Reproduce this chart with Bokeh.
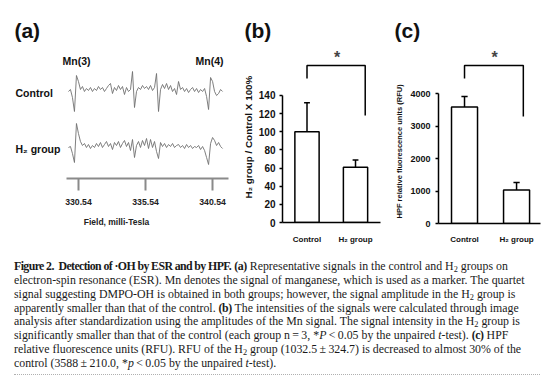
import numpy as np
from bokeh.plotting import figure
from bokeh.layouts import row, column
from bokeh.models import Range1d, FixedTicker, Label, Div, PrintfTickFormatter, Title
from bokeh.embed import file_html
from bokeh.resources import INLINE

# ---------------- data ----------------
esr_field_start = 329.79
esr_field_end = 341.29
esr_control = [0, 2, -6, -20, 16, 10, 2, 5, 0, 3, 1, 4, 0, 3, 1, 5, 2, 4, 0, 3,
               6, 8, -2, 4, 1, 6, 2, 5, -3, 4, 0, 2, 20, -16, 0, 4, 2, 6, 3, 5,
               2, 6, 1, 4, 18, -20, 2, 7, 3, 8, 2, 6, 0, 3, -3, 10, 2, 4, 0, 3,
               -1, 2, 4, 0, 3, -1, 2, 0, 3, -5, -18, 14, 10, 0, -4, -2, 2, 0]
esr_h2 = [0, 1, -6, -15, 24, 14, 6, 2, 4, 0, 3, -1, 2, 0, 4, 1, 5, 0, 3, 6,
          1, 4, -2, 5, 2, 6, 0, 4, 7, 1, 5, -3, 8, -10, 2, 6, 0, 7, 2, 9,
          -1, 8, 0, 6, -4, -11, 5, 1, 4, 0, 3, 1, 4, 0, 2, 3, 0, 2, -1, 3,
          0, 2, -1, 1, 0, 2, -2, 1, -3, -10, -17, 4, 10, 7, 2, 5, 1, -1]
esr_ticks = [330.54, 335.54, 340.54]

groups = ["Control", "H₂ group"]
b_mean = [100, 61]
b_err = [32, 8]
b_ticks = [0, 20, 40, 60, 80, 100, 120, 140]

c_mean = [3588, 1032.5]
c_err = [320, 230]
c_ticks = [0, 1000, 2000, 3000, 4000]

# ---------------- style ----------------
SANS = "Liberation Sans"
TRACE = "#707070"
AXGRAY = "#8a8a8a"
TOP_H = 250


def base(fig):
    fig.outline_line_color = None
    fig.grid.visible = False
    fig.background_fill_color = "white"
    fig.border_fill_color = "white"
    return fig


# ---------------- panel (a) ----------------
pa = figure(width=232, height=TOP_H, x_range=Range1d(324.72, 342.03), y_range=Range1d(0, 178),
            output_backend="svg", toolbar_location=None, y_axis_type=None,
            min_border_left=0, min_border_right=0, min_border_top=0, min_border_bottom=72)
pa.frame_align = False
base(pa)
field = np.linspace(esr_field_start, esr_field_end, len(esr_control))
pa.line(field, np.array(esr_control) + 87, line_color=TRACE, line_width=0.9)
pa.line(field, np.array(esr_h2) + 31, line_color=TRACE, line_width=0.9)
ax = pa.xaxis[0]
ax.bounds = (329.64, 341.73)
ax.ticker = FixedTicker(ticks=esr_ticks)
ax.formatter = PrintfTickFormatter(format="%.2f")
ax.axis_line_color = AXGRAY
ax.axis_line_width = 2
ax.major_tick_line_color = AXGRAY
ax.major_tick_line_width = 2
ax.major_tick_out = 12
ax.major_tick_in = 0
ax.minor_tick_line_color = None
ax.major_label_text_font = SANS
ax.major_label_text_font_style = "bold"
ax.major_label_text_font_size = "8.7px"
ax.major_label_text_color = "#222222"
ax.major_label_standoff = 8
ax.axis_label = "Field, milli-Tesla"
ax.axis_label_text_font = SANS
ax.axis_label_text_font_style = "bold"
ax.axis_label_text_font_size = "8.5px"
ax.axis_label_text_color = "#222222"
ax.axis_label_standoff = 9

for x, y, t, s in [(325.76, 148, "(a)", "21px"), (329.35, 118, "Mn(3)", "10.5px"),
                   (339.27, 118, "Mn(4)", "10.5px"), (325.84, 86, "Control", "10.5px"),
                   (325.84, 30, "H₂ group", "10.5px")]:
    pa.add_layout(Label(x=x, y=y, text=t, text_font=SANS, text_font_style="bold",
                        text_font_size=s, text_baseline="middle", text_color="#111111"))


# ---------------- bar panels ----------------
def bar_panel(width, xr, yr, mb_left, mb_right, mb_bottom, means, errs, ticks, bounds,
              tick_size, tick_standoff, xlab_size, xlab_standoff, cap):
    p = figure(width=width, height=TOP_H, x_range=Range1d(*xr), y_range=Range1d(*yr),
               output_backend="svg", toolbar_location=None,
               min_border_left=mb_left, min_border_right=mb_right,
               min_border_top=44, min_border_bottom=mb_bottom)
    p.frame_align = False
    base(p)
    xs = [1, 2]
    tops = [m + e for m, e in zip(means, errs)]
    p.segment(x0=xs, y0=means, x1=xs, y1=tops, line_color="black", line_width=1.5)
    p.segment(x0=[x - cap for x in xs], y0=tops, x1=[x + cap for x in xs], y1=tops,
              line_color="black", line_width=1.5)
    p.vbar(x=xs, top=means, bottom=0, width=0.5, fill_color="white",
           line_color="black", line_width=1.5)
    ya = p.yaxis[0]
    ya.bounds = bounds
    ya.ticker = FixedTicker(ticks=ticks)
    ya.axis_line_width = 1.5
    ya.major_tick_line_width = 1.5
    ya.major_tick_out = 3
    ya.major_tick_in = 0
    ya.minor_tick_line_color = None
    ya.major_label_text_font = SANS
    ya.major_label_text_font_style = "bold"
    ya.major_label_text_font_size = tick_size
    ya.major_label_text_color = "#111111"
    ya.major_label_standoff = tick_standoff
    xa = p.xaxis[0]
    xa.ticker = FixedTicker(ticks=xs)
    xa.major_label_overrides = {1: groups[0], 2: groups[1]}
    xa.axis_line_width = 1.5
    xa.major_tick_out = 0
    xa.major_tick_in = 0
    xa.minor_tick_line_color = None
    xa.major_label_text_font = SANS
    xa.major_label_text_font_style = "bold"
    xa.major_label_text_font_size = xlab_size
    xa.major_label_text_color = "#111111"
    xa.major_label_standoff = xlab_standoff
    return p


def titles(p, letter, letter_offset, ylabel, ysize, yoffset, ystandoff):
    p.add_layout(Title(text=letter, align="left", offset=letter_offset, standoff=5,
                       text_font=SANS, text_font_style="bold", text_font_size="21px",
                       text_color="#111111"), "above")
    p.add_layout(Title(text=ylabel, align="left", offset=yoffset, standoff=ystandoff,
                       text_font=SANS, text_font_style="bold", text_font_size=ysize,
                       text_color="#111111"), "left")


pb = bar_panel(152, (0.495, 2.515), (0, 196.2), 50, 4, 28, b_mean, b_err, b_ticks, (0, 140),
               "10px", 4, "8px", 12, 0.06)
pb.line([1, 1, 2.2, 2.2], [158.8, 173, 173, 118], line_color="black", line_width=1.5)
pb.add_layout(Label(x=1.62, y=182, text="*", text_font=SANS, text_font_style="bold",
                    text_font_size="16px", text_baseline="alphabetic", text_align="center"))
titles(pb, "(b)", -38, "H₂ group / Control X 100%", "9.9px", 24, 3)

pc = bar_panel(170, (0.5, 2.46), (0, 5507.7), 54, 14, 27, c_mean, c_err, c_ticks, (0, 4000),
               "9px", 5, "8px", 11, 0.06)
pc.line([1, 1, 2.13, 2.13], [4462, 4862, 4862, 3292], line_color="black", line_width=1.5)
pc.add_layout(Label(x=1.58, y=5120, text="*", text_font=SANS, text_font_style="bold",
                    text_font_size="16px", text_baseline="alphabetic", text_align="center"))
titles(pc, "(c)", -44, "HPF relative fluorescence units (RFU)", "7.5px", 5, 7)

# ---------------- caption ----------------
S2 = "<sub style='font-size:70%;vertical-align:-0.25em;line-height:0'>2</sub>"
BT = "<b style='letter-spacing:-0.6px'>"
BL = "<b style='letter-spacing:-0.4px'>"
cap_lines = [
    BT + "Figure 2.&nbsp; Detection of ·OH by ESR and by HPF.</b> " + BL
    + "(a)</b> Representative signals in the control and H" + S2 + " groups on",
    "electron-spin resonance (ESR). Mn denotes the signal of manganese, which is used as a marker. The quartet",
    "signal suggesting DMPO-OH is obtained in both groups; however, the signal amplitude in the H" + S2 + " group is",
    "apparently smaller than that of the control. " + BL
    + "(b)</b> The intensities of the signals were calculated through image",
    "analysis after standardization using the amplitudes of the Mn signal. The signal intensity in the H" + S2 + " group is",
    "significantly smaller than that of the control (each group n&#8201;=&#8201;3, *<i>P</i>&#8201;&lt;&#8201;0.05 by the unpaired <i>t</i>-test). "
    + BL + "(c)</b> HPF",
    "relative fluorescence units (RFU). RFU of the H" + S2 + " group (1032.5&#8201;±&#8201;324.7) is decreased to almost 30% of the",
    "control (3588&#8201;±&#8201;210.0, *<i>p</i>&#8201;&lt;&#8201;0.05 by the unpaired <i>t</i>-test).",
]
html = ("<div style=\"position:relative;font-family:'Liberation Serif',serif;font-size:11.85px;"
        "line-height:13.85px;color:#1a1a1a;padding:10px 0 0 14px;width:540px;height:116px;\">"
        + "".join(f"<div style='white-space:nowrap'>{l}</div>" for l in cap_lines)
        + "<div style='position:absolute;left:14px;top:124px;width:526px;"
          "border-top:1px dotted #b0b0b0'></div></div>")
cap = Div(text=html, width=554, height=376 - TOP_H, margin=(0, 0, 0, 0))

layout = column(row(pa, pb, pc, spacing=0), cap, spacing=0)
open("out.html", "w").write(file_html(layout, INLINE))
